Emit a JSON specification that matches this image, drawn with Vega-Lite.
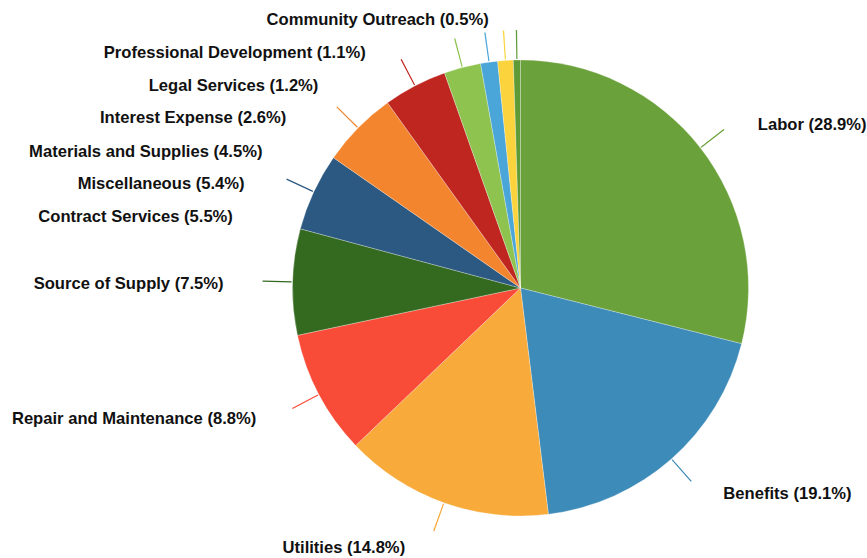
{
  "$schema": "https://vega.github.io/schema/vega-lite/v6.json",
  "width": 693,
  "height": 540,
  "autosize": {"type": "none"},
  "padding": {"left": 174, "top": 18, "right": 0, "bottom": 0},
  "background": "#ffffff",
  "view": {"stroke": null},
  "config": {"text": {"font": "Liberation Sans", "fontWeight": "bold", "fontSize": 16.6, "color": "#111111", "baseline": "middle"}},
  "data": {"values": [
    {"category": "Labor", "value": 28.9, "order": 1},
    {"category": "Benefits", "value": 19.1, "order": 2},
    {"category": "Utilities", "value": 14.8, "order": 3},
    {"category": "Repair and Maintenance", "value": 8.8, "order": 4},
    {"category": "Source of Supply", "value": 7.5, "order": 5},
    {"category": "Contract Services", "value": 5.5, "order": 6},
    {"category": "Miscellaneous", "value": 5.4, "order": 7},
    {"category": "Materials and Supplies", "value": 4.5, "order": 8},
    {"category": "Interest Expense", "value": 2.6, "order": 9},
    {"category": "Legal Services", "value": 1.2, "order": 10},
    {"category": "Professional Development", "value": 1.1, "order": 11},
    {"category": "Community Outreach", "value": 0.5, "order": 12}
  ]},
  "transform": [
    {"window": [{"op": "sum", "field": "value", "as": "cum"}], "sort": [{"field": "order"}], "frame": [null, 0]},
    {"calculate": "datum.cum - datum.value", "as": "start"},
    {"calculate": "datum.cum - datum.value / 2", "as": "mid"},
    {"calculate": "datum.mid - 0.04", "as": "t1"},
    {"calculate": "datum.mid + 0.04", "as": "t2"},
    {"calculate": "datum.category + ' (' + format(datum.value, '.1f') + '%)'", "as": "label"}
  ],
  "layer": [
    {
      "mark": {"type": "arc", "outerRadius": 228, "stroke": "#ffffff", "strokeWidth": 0.4, "strokeOpacity": 0.7},
      "encoding": {
        "theta": {"field": "start", "type": "quantitative", "stack": null, "scale": {"domain": [0, 99.9]}},
        "theta2": {"field": "cum"},
        "color": {"field": "category", "type": "nominal", "legend": null,
          "scale": {
            "domain": ["Labor", "Benefits", "Utilities", "Repair and Maintenance", "Source of Supply", "Contract Services", "Miscellaneous", "Materials and Supplies", "Interest Expense", "Legal Services", "Professional Development", "Community Outreach"],
            "range": ["#6aa13a", "#3d8bb8", "#f8aa3a", "#f94c38", "#346a1f", "#2c5981", "#f2852d", "#bf2620", "#8ec34f", "#4aa6d9", "#fbd33c", "#5e9a36"]
          }}
      }
    },
    {
      "mark": {"type": "arc", "outerRadius": 258, "innerRadius": 229},
      "encoding": {
        "theta": {"field": "t1", "type": "quantitative", "stack": null, "scale": {"domain": [0, 99.9]}},
        "theta2": {"field": "t2"},
        "color": {"field": "category", "type": "nominal", "legend": null}
      }
    },
    {"transform": [{"filter": "datum.category === 'Labor'"}], "mark": {"type": "text", "align": "left", "dx": 48, "dy": -15},
     "encoding": {"theta": {"field": "mid", "type": "quantitative", "scale": {"domain": [0, 99.9]}}, "radius": {"value": 240}, "text": {"field": "label"}}},
    {"transform": [{"filter": "datum.category === 'Benefits'"}], "mark": {"type": "text", "align": "left", "dx": 44, "dy": 26},
     "encoding": {"theta": {"field": "mid", "type": "quantitative", "scale": {"domain": [0, 99.9]}}, "radius": {"value": 240}, "text": {"field": "label"}}},
    {"transform": [{"filter": "datum.category === 'Utilities'"}], "mark": {"type": "text", "align": "center", "dx": -96, "dy": 34},
     "encoding": {"theta": {"field": "mid", "type": "quantitative", "scale": {"domain": [0, 99.9]}}, "radius": {"value": 240}, "text": {"field": "label"}}},
    {"transform": [{"filter": "datum.category === 'Repair and Maintenance'"}], "mark": {"type": "text", "align": "right", "dx": -52, "dy": 19},
     "encoding": {"theta": {"field": "mid", "type": "quantitative", "scale": {"domain": [0, 99.9]}}, "radius": {"value": 240}, "text": {"field": "label"}}},
    {"transform": [{"filter": "datum.category === 'Source of Supply'"}], "mark": {"type": "text", "align": "right", "dx": -57, "dy": 2},
     "encoding": {"theta": {"field": "mid", "type": "quantitative", "scale": {"domain": [0, 99.9]}}, "radius": {"value": 240}, "text": {"field": "label"}}},
    {"transform": [{"filter": "datum.category === 'Contract Services'"}], "mark": {"type": "text", "align": "right", "dx": -70, "dy": 30},
     "encoding": {"theta": {"field": "mid", "type": "quantitative", "scale": {"domain": [0, 99.9]}}, "radius": {"value": 240}, "text": {"field": "label"}}},
    {"transform": [{"filter": "datum.category === 'Miscellaneous'"}], "mark": {"type": "text", "align": "right", "dx": -105, "dy": 65},
     "encoding": {"theta": {"field": "mid", "type": "quantitative", "scale": {"domain": [0, 99.9]}}, "radius": {"value": 240}, "text": {"field": "label"}}},
    {"transform": [{"filter": "datum.category === 'Materials and Supplies'"}], "mark": {"type": "text", "align": "right", "dx": -147, "dy": 77},
     "encoding": {"theta": {"field": "mid", "type": "quantitative", "scale": {"domain": [0, 99.9]}}, "radius": {"value": 240}, "text": {"field": "label"}}},
    {"transform": [{"filter": "datum.category === 'Interest Expense'"}], "mark": {"type": "text", "align": "right", "dx": -173, "dy": 62},
     "encoding": {"theta": {"field": "mid", "type": "quantitative", "scale": {"domain": [0, 99.9]}}, "radius": {"value": 240}, "text": {"field": "label"}}},
    {"transform": [{"filter": "datum.category === 'Legal Services'"}], "mark": {"type": "text", "align": "right", "dx": -169, "dy": 36},
     "encoding": {"theta": {"field": "mid", "type": "quantitative", "scale": {"domain": [0, 99.9]}}, "radius": {"value": 240}, "text": {"field": "label"}}},
    {"transform": [{"filter": "datum.category === 'Professional Development'"}], "mark": {"type": "text", "align": "right", "dx": -139, "dy": 4},
     "encoding": {"theta": {"field": "mid", "type": "quantitative", "scale": {"domain": [0, 99.9]}}, "radius": {"value": 240}, "text": {"field": "label"}}},
    {"transform": [{"filter": "datum.category === 'Community Outreach'"}], "mark": {"type": "text", "align": "right", "dx": -28, "dy": -28},
     "encoding": {"theta": {"field": "mid", "type": "quantitative", "scale": {"domain": [0, 99.9]}}, "radius": {"value": 240}, "text": {"field": "label"}}}
  ]
}
